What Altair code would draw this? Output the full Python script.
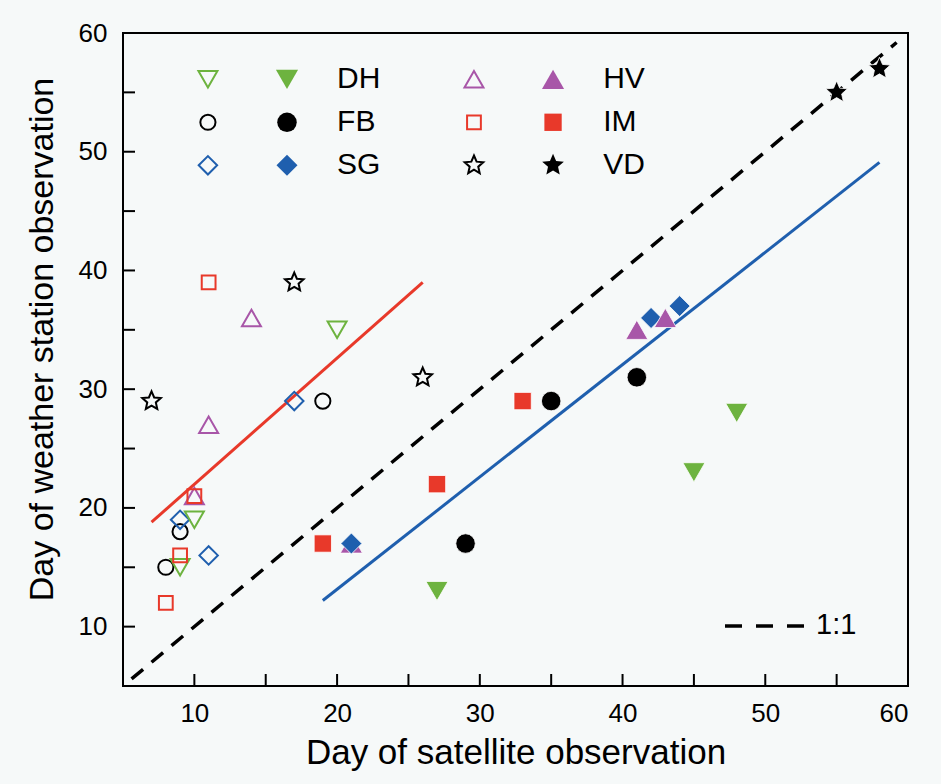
import altair as alt
import pandas as pd

# ---------------- data ----------------
sites = ["DH", "FB", "SG", "HV", "IM", "VD"]

dh_open_sat = [9, 10, 20]
dh_open_ws = [15, 19, 35]
dh_fill_sat = [27, 45, 48]
dh_fill_ws = [13, 23, 28]

fb_open_sat = [8, 9, 19]
fb_open_ws = [15, 18, 29]
fb_fill_sat = [29, 35, 41]
fb_fill_ws = [17, 29, 31]

sg_open_sat = [9, 11, 17]
sg_open_ws = [19, 16, 29]
sg_fill_sat = [21, 42, 44]
sg_fill_ws = [17, 36, 37]

hv_open_sat = [10, 11, 14]
hv_open_ws = [21, 27, 36]
hv_fill_sat = [21, 41, 43]
hv_fill_ws = [17, 35, 36]

im_open_sat = [8, 9, 10, 11]
im_open_ws = [12, 16, 21, 39]
im_fill_sat = [19, 27, 33]
im_fill_ws = [17, 22, 29]

vd_open_sat = [7, 17, 26]
vd_open_ws = [29, 39, 31]
vd_fill_sat = [55, 58]
vd_fill_ws = [55, 57]

red_fit_sat = [7, 26]
red_fit_ws = [18.8, 39.0]
blue_fit_sat = [19, 58]
blue_fit_ws = [12.2, 49.1]
one_to_one = [5.6, 59.2]

axis_labels = [10, 20, 30, 40, 50, 60]
minor_ticks = [10, 15, 20, 25, 30, 35, 40, 45, 50, 55]

# ---------------- styling ----------------
FONT = "Liberation Sans"
STAR = ("M0,-1L0.27,-0.37L0.951,-0.309L0.44,0.14L0.588,0.809L0,0.46"
        "L-0.588,0.809L-0.44,0.14L-0.951,-0.309L-0.27,-0.37Z")
site_colors = ["#6db33f", "#000000", "#1f5fae", "#a856a8", "#e8392a", "#000000"]
site_shapes = ["triangle-down", "circle", "diamond", "triangle-up", "square", STAR]
open_sizes = [360, 230, 340, 360, 190, 380]
fill_sizes = [490, 380, 440, 490, 300, 520]

W, H = 785, 653
XMIN, XMAX, YMIN, YMAX = 5, 60, 5, 60

fill_rank = {"DH": 0, "FB": 1, "HV": 2, "SG": 3, "IM": 4, "VD": 5}


def size_expr(sizes):
    expr = str(sizes[-1])
    for s, v in reversed(list(zip(sites[:-1], sizes[:-1]))):
        expr = f"datum.site === '{s}' ? {v} : ({expr})"
    return expr


def frame(pairs, rank):
    rows = []
    for site, xs, ys in pairs:
        for a, b in zip(xs, ys):
            rows.append({"site": site, "sat": a, "ws": b, "rank": rank[site]})
    return pd.DataFrame(rows).sort_values(["sat", "rank"]).reset_index(drop=True)


open_df = frame([
    ("DH", dh_open_sat, dh_open_ws), ("FB", fb_open_sat, fb_open_ws),
    ("SG", sg_open_sat, sg_open_ws), ("HV", hv_open_sat, hv_open_ws),
    ("IM", im_open_sat, im_open_ws), ("VD", vd_open_sat, vd_open_ws),
], {s: i for i, s in enumerate(sites)})
fill_df = frame([
    ("DH", dh_fill_sat, dh_fill_ws), ("FB", fb_fill_sat, fb_fill_ws),
    ("SG", sg_fill_sat, sg_fill_ws), ("HV", hv_fill_sat, hv_fill_ws),
    ("IM", im_fill_sat, im_fill_ws), ("VD", vd_fill_sat, vd_fill_ws),
], fill_rank)

xscale = alt.Scale(domain=[XMIN, XMAX], nice=False, zero=False)
yscale = alt.Scale(domain=[YMIN, YMAX], nice=False, zero=False)

x_axis = alt.Axis(
    values=axis_labels, title="Day of satellite observation",
    labelFontSize=26, labelPadding=14, titleFontSize=35,
    titleX=W / 2, titleY=66, titleBaseline="middle",
)
y_axis = alt.Axis(
    values=axis_labels, title="Day of weather station observation",
    labelFontSize=26, labelPadding=16, titleFontSize=34,
    titleX=-81, titleY=306, titleBaseline="middle", titleAngle=270,
)

X = alt.X("sat:Q", scale=xscale, axis=x_axis)
Y = alt.Y("ws:Q", scale=yscale, axis=y_axis)

color_s = alt.Scale(domain=sites, range=site_colors)
shape_s = alt.Scale(domain=sites, range=site_shapes)
OPEN_SIZE = size_expr(open_sizes)
FILL_SIZE = size_expr(fill_sizes)

# 1:1 line
diag_df = pd.DataFrame({"sat": one_to_one, "ws": one_to_one})
diag = alt.Chart(diag_df).mark_line(
    color="black", strokeWidth=3.5, strokeDash=[15, 11]
).encode(x=X, y=Y)

red_df = pd.DataFrame({"sat": red_fit_sat, "ws": red_fit_ws})
red = alt.Chart(red_df).mark_line(color="#e8392a", strokeWidth=3).encode(x=X, y=Y)
blue_df = pd.DataFrame({"sat": blue_fit_sat, "ws": blue_fit_ws})
blue = alt.Chart(blue_df).mark_line(color="#1f5fae", strokeWidth=3).encode(x=X, y=Y)

open_pts = alt.Chart(open_df).transform_calculate(sz=OPEN_SIZE).mark_point(
    filled=False, strokeWidth=2, opacity=1
).encode(
    x=X, y=Y,
    color=alt.Color("site:N", scale=color_s, legend=None),
    shape=alt.Shape("site:N", scale=shape_s, legend=None),
    size=alt.Size("sz:Q", scale=None),
)
fill_pts = alt.Chart(fill_df).transform_calculate(sz=FILL_SIZE).mark_point(
    filled=True, opacity=1, stroke="white", strokeWidth=0.8
).encode(
    x=X, y=Y,
    fill=alt.Fill("site:N", scale=color_s, legend=None),
    shape=alt.Shape("site:N", scale=shape_s, legend=None),
    size=alt.Size("sz:Q", scale=None),
)

# in-plot legend (positions computed in data units)
leg_df = pd.DataFrame({"site": sites, "col": [0, 0, 0, 1, 1, 1], "row": [0, 1, 2, 0, 1, 2]})
leg_base = alt.Chart(leg_df).transform_calculate(
    ly="56.1 - datum.row * 3.62",
    lx_open="10.95 + datum.col * 18.64",
    lx_fill="16.49 + datum.col * 18.64",
    lx_text="20.0 + datum.col * 18.64",
    osz=OPEN_SIZE,
    fsz=FILL_SIZE,
)
LY = alt.Y("ly:Q", scale=yscale, axis=y_axis)
leg_open = leg_base.mark_point(filled=False, strokeWidth=2, opacity=1).encode(
    x=alt.X("lx_open:Q", scale=xscale, axis=x_axis), y=LY,
    color=alt.Color("site:N", scale=color_s, legend=None),
    shape=alt.Shape("site:N", scale=shape_s, legend=None),
    size=alt.Size("osz:Q", scale=None),
)
leg_fill = leg_base.mark_point(filled=True, opacity=1).encode(
    x=alt.X("lx_fill:Q", scale=xscale, axis=x_axis), y=LY,
    fill=alt.Fill("site:N", scale=color_s, legend=None),
    shape=alt.Shape("site:N", scale=shape_s, legend=None),
    size=alt.Size("fsz:Q", scale=None),
)
leg_text = leg_base.mark_text(
    align="left", baseline="middle", font=FONT, fontSize=30, color="black"
).encode(
    x=alt.X("lx_text:Q", scale=xscale, axis=x_axis), y=LY, text="site:N",
)

one_rule = alt.Chart(pd.DataFrame({"k": [0]})).mark_rule(
    color="black", strokeWidth=3.5, strokeDash=[17, 14]
).encode(x=alt.value(602), x2=alt.value(685), y=alt.value(593))
one_text = alt.Chart(pd.DataFrame({"k": [0]})).mark_text(
    text="1:1", align="left", baseline="middle", font=FONT, fontSize=29, color="black"
).encode(x=alt.value(693), y=alt.value(592))

# inward ticks
tick_df = pd.DataFrame({"t": minor_ticks})
xticks = alt.Chart(tick_df).mark_rule(color="black", strokeWidth=2).encode(
    x=alt.X("t:Q", scale=xscale, axis=x_axis), y=alt.value(H), y2=alt.value(H - 12)
)
yticks = alt.Chart(tick_df).mark_rule(color="black", strokeWidth=2).encode(
    y=alt.Y("t:Q", scale=yscale, axis=y_axis), x=alt.value(0), x2=alt.value(12)
)

chart = alt.layer(
    diag, red, blue, open_pts, fill_pts, leg_open, leg_fill, leg_text,
    one_rule, one_text, xticks, yticks
).properties(
    width=W, height=H,
    autosize=alt.AutoSizeParams(type="none"),
    padding={"left": 123, "top": 33, "right": 33, "bottom": 98},
    background="#f6f9f9",
).configure_axis(
    grid=False, domain=False, ticks=False,
    labelFont=FONT, titleFont=FONT, labelColor="black", titleColor="black",
    titleFontWeight="normal",
).configure_view(
    stroke="black", strokeWidth=2,
)

chart.save("out.html", embed_options={"renderer": "svg", "actions": False})
